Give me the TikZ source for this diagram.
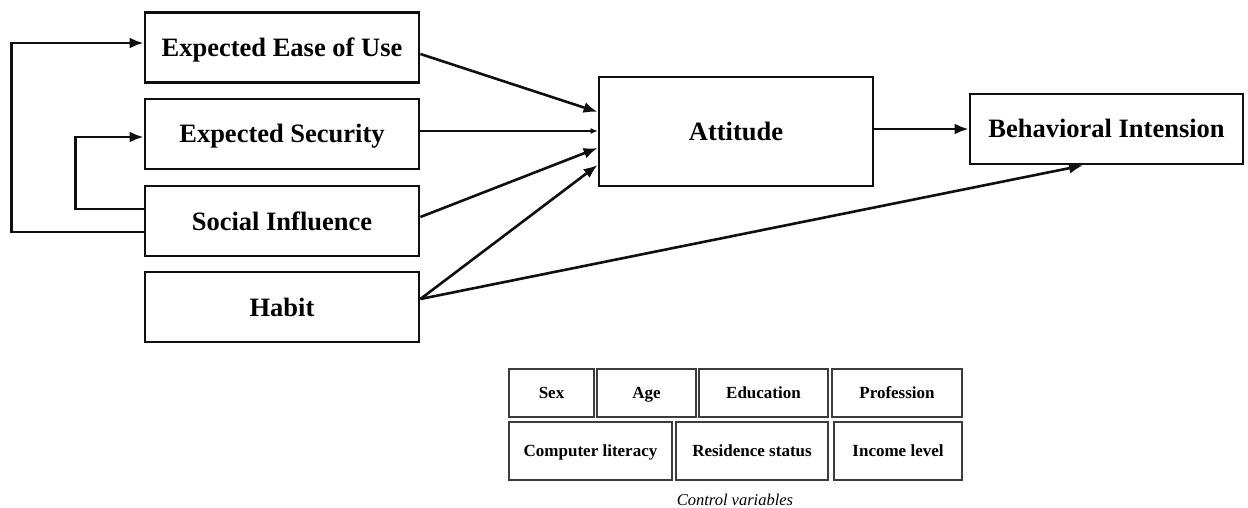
\documentclass[tikz,border=0pt]{standalone}
\usepackage{fontspec}
\setmainfont{Liberation Serif}
\usepackage{tikz}
\usetikzlibrary{arrows.meta}
\usetikzlibrary{calc}
\definecolor{boxline}{RGB}{15,15,15}
\definecolor{ctrlline}{RGB}{60,60,60}

\tikzset{
  mainbox/.style={draw=boxline, line width=2.8pt, inner sep=0pt,
                  minimum width=274pt, minimum height=70pt,
                  text height=24pt, text depth=6pt,
                  font=\fontsize{26.5}{30}\selectfont\bfseries},
  ctrlbox/.style={draw=ctrlline, line width=1.6pt, inner sep=0pt,
                  text height=15pt, text depth=4pt,
                  font=\fontsize{17}{20}\selectfont\bfseries},
  path/.style={draw=boxline, line width=2.6pt, -{Latex[length=14pt,width=11pt]}},
  thinpath/.style={draw=boxline, line width=1.1pt, -{Latex[length=7pt,width=6pt]}}
}

\begin{document}
\begin{tikzpicture}[x=1pt,y=-1pt]
\useasboundingbox (0,0) rectangle (1248,508);

%---------------------------------------
% Constructs
%---------------------------------------
\node[mainbox] (ease)     at (282,47.5) {Expected Ease of Use};
\node[mainbox] (security) at (282,134)  {Expected Security};
\node[mainbox] (social)   at (282,221)  {Social Influence};
\node[mainbox] (habit)    at (282,307)  {Habit};

\node[mainbox, minimum height=109pt] (attitude) at (736,131.5) {Attitude};
\node[mainbox, minimum width=273pt]  (intention) at (1106.5,129) {Behavioral Intension};

%---------------------------------------
% Paths into attitude
%---------------------------------------
\draw[path]     ([yshift=-6.5pt]ease.east)    -- ([yshift=19.5pt]attitude.west);
\draw[thinpath] ([yshift=3pt]security.east)   -- ([yshift=0.5pt]attitude.west);
\draw[path]     ([yshift=4pt]social.east)     -- ([yshift=-16.5pt]attitude.west);
\draw[path]     ([yshift=8pt]habit.east)      -- ([yshift=-33.5pt]attitude.west);

% Paths into intention
\draw[path] (attitude.east |- intention.west) -- (intention.west);
\draw[path] ([yshift=8pt]habit.east) -- ([xshift=-23.5pt]intention.south);

% Feedback from social influence
\draw[path] ([yshift=-11pt]social.west) -- ++(-132,0) |- ([yshift=4.5pt]ease.west);
\draw[path] ([yshift=12pt]social.west)  -- ++(-68,0)  |- ([yshift=-3pt]security.west);

%====================================================
% Control variables
%====================================================
\foreach \nm/\cx/\w/\txt in {sex/551.5/85/Sex, age/646.5/99/Age,
    edu/763.5/129/Education, prof/897/130/Profession}
  \node[ctrlbox, minimum width=\w pt, minimum height=48pt] (\nm) at (\cx,393) {\txt};

\foreach \nm/\cx/\w/\txt in {comp/590.5/163/Computer literacy,
    res/752/152/Residence status, inc/898/128/Income level}
  \node[ctrlbox, minimum width=\w pt, minimum height=58pt] (\nm) at (\cx,451) {\txt};

\node[font=\fontsize{16.5}{19}\selectfont\itshape] (ctrl) at (735,500) {Control variables};

\end{tikzpicture}
\end{document}
